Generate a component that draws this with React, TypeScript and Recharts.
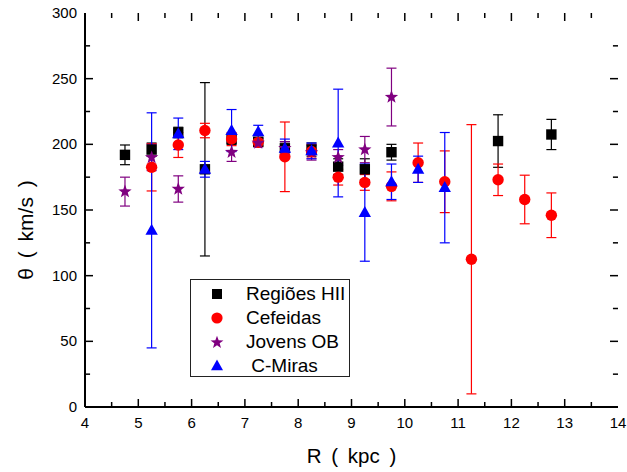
import React from "react";
import {
  ErrorBar,
  Legend,
  ReferenceLine,
  Scatter,
  ScatterChart,
  XAxis,
  YAxis,
} from "recharts";

// Regiões HII
const hiiR = [4.75, 5.25, 5.75, 6.25, 6.75, 7.25, 7.75, 8.25, 8.75, 9.25, 9.75, 11.75, 12.75];
const hiiTheta = [192, 196, 209, 181, 204, 202, 197, 196, 183, 181, 194, 202.5, 207.5];
const hiiErr = [7.5, 5, 4, 66, 4, 3, 5, 5, 6, 8, 6, 20, 11.5];

// Cefeidas
const cefR = [5.25, 5.75, 6.25, 6.75, 7.25, 7.75, 8.25, 8.75, 9.25, 9.75, 10.25, 10.75, 11.25, 11.75, 12.25, 12.75];
const cefTheta = [182.5, 199.5, 210.5, 204, 201.5, 190.5, 194.5, 175, 171, 168, 186, 171.5, 112.5, 173, 158, 146];
const cefErr = [18, 9.5, 5.5, 5, 3, 26.5, 5, 6, 6, 11, 15, 23.5, 102.5, 12, 18.5, 17];

// Jovens OB
const obR = [4.75, 5.25, 5.75, 6.75, 7.25, 7.75, 8.25, 8.75, 9.25, 9.75];
const obTheta = [164, 190, 166, 194, 201, 197, 194, 190, 196, 236];
const obErr = [11, 10, 10, 7, 3, 5, 6, 6, 10, 22];

// C-Miras
const miraR = [5.25, 5.75, 6.25, 6.75, 7.25, 7.75, 8.25, 8.75, 9.25, 9.75, 10.25, 10.75];
const miraTheta = [134.5, 208, 181, 210.5, 209.5, 197, 195, 201, 148, 171.5, 181, 167];
const miraErr = [89.5, 12, 6, 16, 5, 7, 6, 41, 37, 13.5, 10, 42];

const xTicks = [4, 4.5, 5, 5.5, 6, 6.5, 7, 7.5, 8, 8.5, 9, 9.5, 10, 10.5, 11, 11.5, 12, 12.5, 13, 13.5, 14];
const yTicks = [0, 25, 50, 75, 100, 125, 150, 175, 200, 225, 250, 275, 300];

const X_MIN = 4;
const X_MAX = 14;
const Y_MIN = 0;
const Y_MAX = 300;

const toPoints = (r: number[], t: number[], e: number[]) =>
  r.map((x, i) => ({ x, y: t[i], err: e[i] }));

const hii = toPoints(hiiR, hiiTheta, hiiErr);
const cef = toPoints(cefR, cefTheta, cefErr);
const ob = toPoints(obR, obTheta, obErr);
const mira = toPoints(miraR, miraTheta, miraErr);

const RED = "#ff0000";
const PURPLE = "#800080";
const BLUE = "#0000ff";
const FONT = "'Liberation Sans', Arial, sans-serif";
const AXIS_LINE = { stroke: "#000", strokeWidth: 2 };

const isMajorX = (v: number) => Number.isInteger(v);
const isMajorY = (v: number) => v % 50 === 0;

// inward frame ticks, lengths in data units (~8px major, ~5px minor)
const xTickLen = (v: number) => (isMajorX(v) ? 6.1 : 3.8);
const yTickLen = (v: number) => (isMajorY(v) ? 0.15 : 0.095);

const starPath = (cx: number, cy: number, ro: number, ri: number) => {
  const pts: string[] = [];
  for (let k = 0; k < 10; k++) {
    const r = k % 2 === 0 ? ro : ri;
    const a = -Math.PI / 2 + (k * Math.PI) / 5;
    pts.push(`${cx + r * Math.cos(a)},${cy + r * Math.sin(a)}`);
  }
  return `M${pts.join("L")}Z`;
};

const Square = ({ cx, cy }: any) => <rect x={cx - 5.2} y={cy - 5.2} width={10.4} height={10.4} fill="#000" />;
const Dot = ({ cx, cy }: any) => <circle cx={cx} cy={cy} r={5.7} fill={RED} />;
const Star = ({ cx, cy }: any) => <path d={starPath(cx, cy, 7, 2.9)} fill={PURPLE} />;
const Tri = ({ cx, cy }: any) => (
  <path d={`M${cx},${cy - 6.6}L${cx + 6.2},${cy + 4.4}L${cx - 6.2},${cy + 4.4}Z`} fill={BLUE} />
);

const BottomTick = ({ x, y, payload }: any) =>
  isMajorX(payload.value) ? (
    <text x={x} y={y + 21} textAnchor="middle" fontSize={15} fontFamily={FONT} fill="#000">
      {payload.value}
    </text>
  ) : (
    <g />
  );

const LeftTick = ({ x, y, payload }: any) =>
  isMajorY(payload.value) ? (
    <text x={x - 8} y={y + 5} textAnchor="end" fontSize={15} fontFamily={FONT} fill="#000">
      {payload.value}
    </text>
  ) : (
    <g />
  );

const YTitle = () => (
  <text
    x={33}
    y={230}
    transform="rotate(-90 33 230)"
    textAnchor="middle"
    fontSize={21}
    fontFamily={FONT}
    fill="#000"
    style={{ wordSpacing: "4px" }}
  >
    θ ( km/s )
  </text>
);

const legendRows = [
  { label: "Regiões HII", shape: <rect x={4} y={4} width={10} height={10} fill="#000" /> },
  { label: "Cefeidas", shape: <circle cx={9} cy={9} r={5.6} fill={RED} /> },
  { label: "Jovens OB", shape: <path d={starPath(9, 9.5, 6.8, 2.8)} fill={PURPLE} /> },
  { label: " C-Miras", shape: <path d="M9,2.5L15,13.3L3,13.3Z" fill={BLUE} /> },
];

const LegendBox = () => (
  <div
    style={{
      boxSizing: "border-box",
      width: 160,
      height: 98,
      border: "1px solid #222",
      background: "#fff",
      paddingTop: 2,
      fontFamily: FONT,
      fontSize: 19,
      color: "#000",
    }}
  >
    {legendRows.map((r) => (
      <div key={r.label} style={{ height: 24, display: "flex", alignItems: "center" }}>
        <svg width={18} height={18} style={{ marginLeft: 17, marginRight: 20 }}>
          {r.shape}
        </svg>
        <span style={{ whiteSpace: "pre", lineHeight: "24px" }}>{r.label}</span>
      </div>
    ))}
  </div>
);

const tickSeg = (key: string, a: { x: number; y: number }, b: { x: number; y: number }) => (
  <ReferenceLine
    key={key}
    xAxisId="b"
    yAxisId="l"
    segment={[a, b]}
    stroke="#000"
    strokeWidth={1.5}
    ifOverflow="visible"
  />
);

export default function App() {
  return (
    <div style={{ position: "absolute", left: 0, top: 0, background: "#fff" }}>
      <ScatterChart width={627} height={472} margin={{ top: 13, right: 9, bottom: 0, left: 0 }}>
        <XAxis
          xAxisId="b"
          type="number"
          dataKey="x"
          domain={[X_MIN, X_MAX]}
          allowDataOverflow
          ticks={xTicks}
          interval={0}
          height={65}
          tickSize={0}
          tickMargin={0}
          tickLine={false}
          tick={BottomTick}
          axisLine={AXIS_LINE}
          label={{
            value: "R ( kpc )",
            position: "insideBottom",
            offset: 9,
            fontSize: 20.5,
            fontFamily: FONT,
            fill: "#000",
            style: { wordSpacing: "4px" },
          }}
        />
        <XAxis
          xAxisId="t"
          orientation="top"
          type="number"
          dataKey="x"
          domain={[X_MIN, X_MAX]}
          allowDataOverflow
          height={0}
          tick={false}
          tickLine={false}
          axisLine={AXIS_LINE}
        />
        <YAxis
          yAxisId="l"
          type="number"
          dataKey="y"
          domain={[Y_MIN, Y_MAX]}
          allowDataOverflow
          ticks={yTicks}
          interval={0}
          width={85}
          tickSize={0}
          tickMargin={0}
          tickLine={false}
          tick={LeftTick}
          axisLine={AXIS_LINE}
          label={{ content: YTitle }}
        />
        <YAxis
          yAxisId="r"
          orientation="right"
          type="number"
          dataKey="y"
          domain={[Y_MIN, Y_MAX]}
          allowDataOverflow
          width={0}
          tick={false}
          tickLine={false}
          axisLine={AXIS_LINE}
        />
        {xTicks.slice(1, -1).map((v) => tickSeg(`xb${v}`, { x: v, y: Y_MIN }, { x: v, y: Y_MIN + xTickLen(v) }))}
        {xTicks.slice(1, -1).map((v) => tickSeg(`xt${v}`, { x: v, y: Y_MAX }, { x: v, y: Y_MAX - xTickLen(v) }))}
        {yTicks.slice(1, -1).map((v) => tickSeg(`yl${v}`, { x: X_MIN, y: v }, { x: X_MIN + yTickLen(v), y: v }))}
        {yTicks.slice(1, -1).map((v) => tickSeg(`yr${v}`, { x: X_MAX, y: v }, { x: X_MAX - yTickLen(v), y: v }))}
        <Legend
          layout="vertical"
          align="center"
          verticalAlign="middle"
          content={LegendBox}
          wrapperStyle={{ left: 190, top: 279, width: 160, height: 98 }}
        />
        <Scatter name="Regiões HII" data={hii} xAxisId="b" yAxisId="l" shape={Square} isAnimationActive={false}>
          <ErrorBar dataKey="err" direction="y" width={5} stroke="#000" strokeWidth={1.2} />
        </Scatter>
        <Scatter name="Cefeidas" data={cef} xAxisId="b" yAxisId="l" shape={Dot} isAnimationActive={false}>
          <ErrorBar dataKey="err" direction="y" width={5} stroke={RED} strokeWidth={1.2} />
        </Scatter>
        <Scatter name="Jovens OB" data={ob} xAxisId="b" yAxisId="l" shape={Star} isAnimationActive={false}>
          <ErrorBar dataKey="err" direction="y" width={5} stroke={PURPLE} strokeWidth={1.2} />
        </Scatter>
        <Scatter name="C-Miras" data={mira} xAxisId="b" yAxisId="l" shape={Tri} isAnimationActive={false}>
          <ErrorBar dataKey="err" direction="y" width={5} stroke={BLUE} strokeWidth={1.2} />
        </Scatter>
      </ScatterChart>
    </div>
  );
}
